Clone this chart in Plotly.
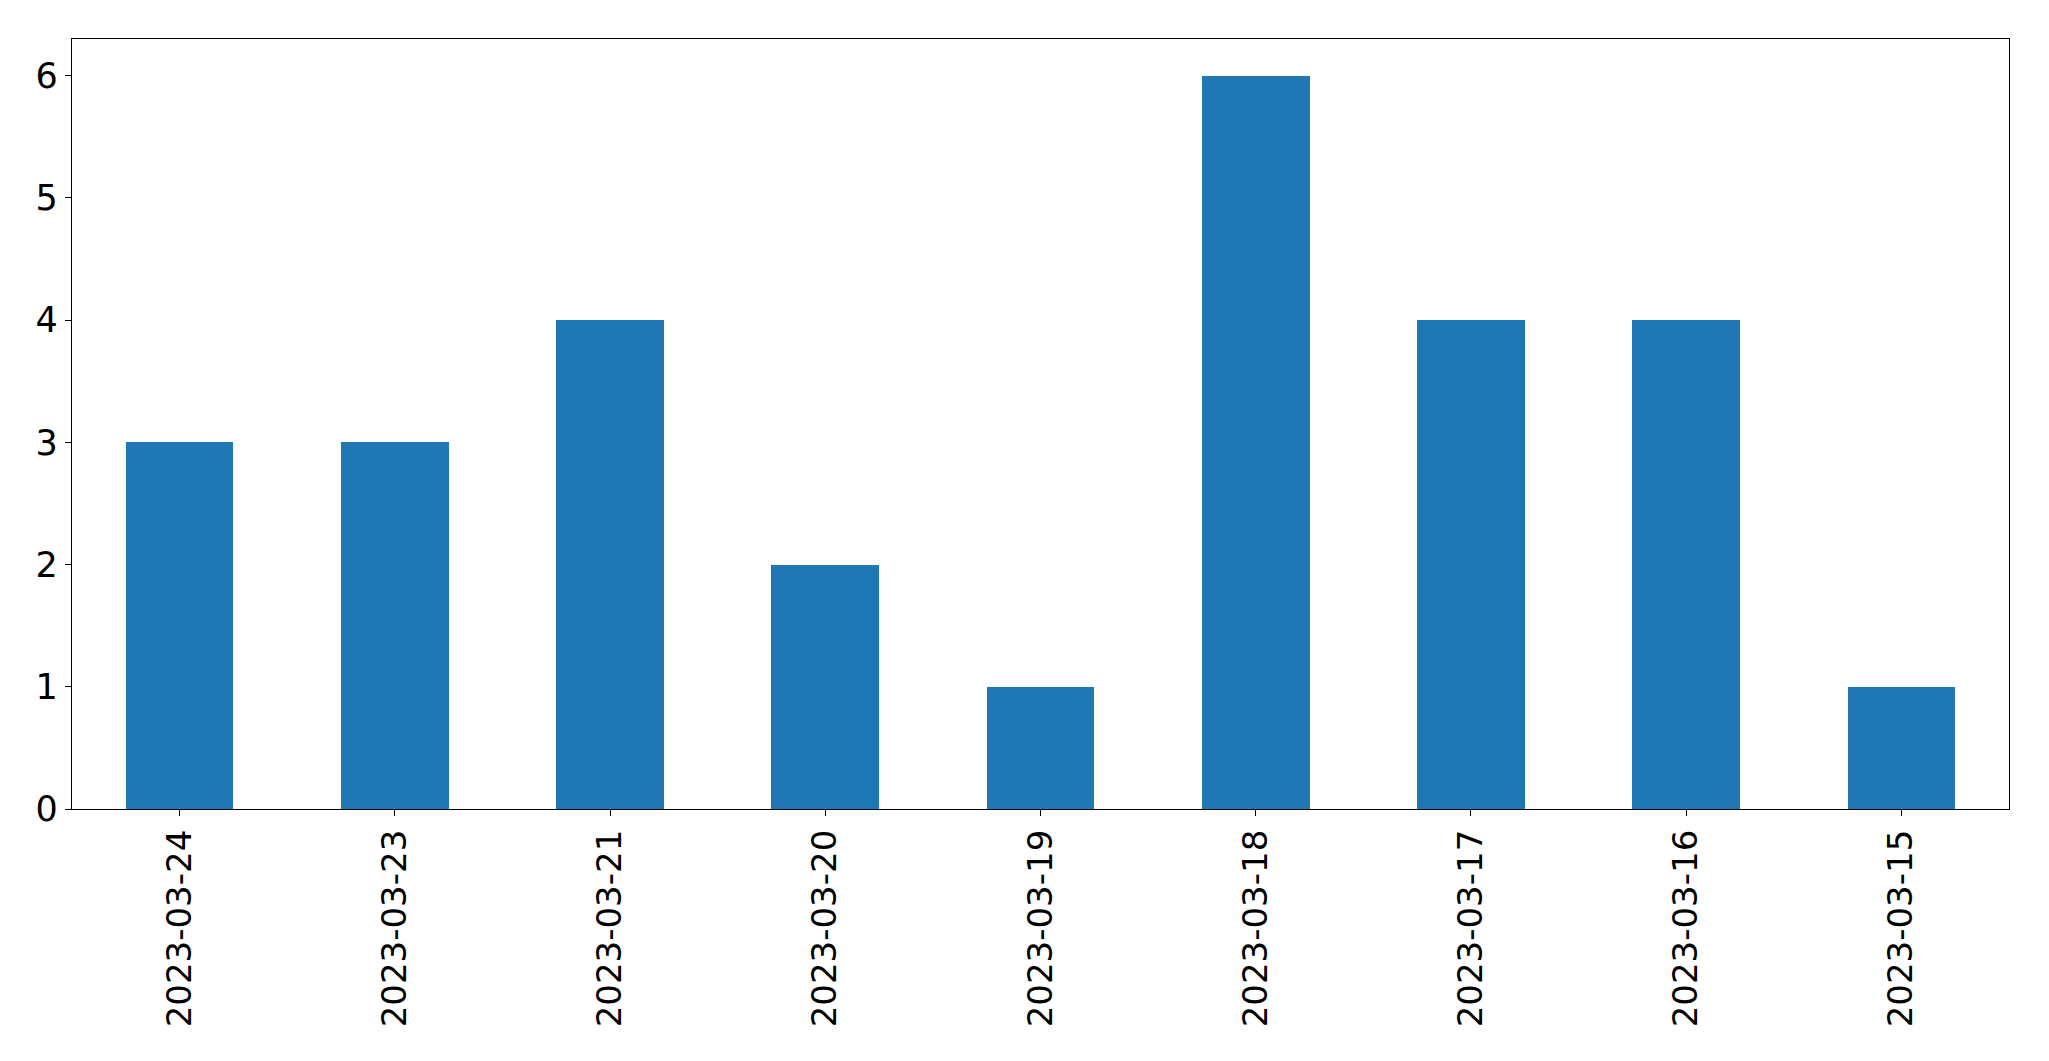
import plotly.graph_objects as go

dates = ["2023-03-24", "2023-03-23", "2023-03-21", "2023-03-20", "2023-03-19",
         "2023-03-18", "2023-03-17", "2023-03-16", "2023-03-15"]
counts = [3, 3, 4, 2, 1, 6, 4, 4, 1]
y_ticks = [0, 1, 2, 3, 4, 5, 6]

fig = go.Figure(go.Bar(x=dates, y=counts, marker=dict(color="#1f77b4", line=dict(width=0)), width=0.5))

axis_common = dict(showline=True, linecolor="black", linewidth=1.3, mirror=True,
                   ticks="outside", ticklen=6, tickwidth=1.3, tickcolor="black",
                   showgrid=False, zeroline=False, automargin=False)

fig.update_layout(
    width=2033, height=1045,
    margin=dict(l=64, r=32, t=31, b=244),
    paper_bgcolor="white", plot_bgcolor="white",
    showlegend=False,
    bargap=0,
)
fig.update_xaxes(type="category", range=[-0.5, 8.5], tickangle=-90,
                 tickfont=dict(family="DejaVu Sans", size=34, color="black"), **axis_common)
fig.update_yaxes(range=[0, 6.3], tickvals=y_ticks,
                 tickfont=dict(family="DejaVu Sans", size=35, color="black"), **axis_common)

fig.write_html("out.html")
